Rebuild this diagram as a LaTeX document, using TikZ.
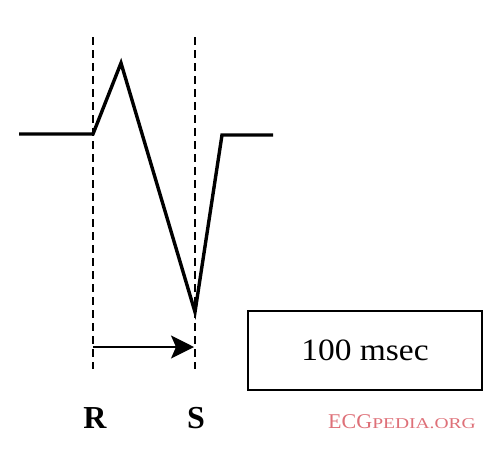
\documentclass[tikz,border=0pt]{standalone}
\usepackage{fontspec}
\setmainfont{Liberation Serif}
\newfontfamily\boxfont[FakeStretch=1.08]{Liberation Serif}
\newfontfamily\wmcap[FakeStretch=1.05]{Liberation Serif}
\newfontfamily\wmsc[FakeStretch=1.3]{Liberation Serif}
\usetikzlibrary{arrows.meta}
\definecolor{wmred}{RGB}{222,112,120}
\begin{document}
\begin{tikzpicture}[x=1pt,y=-1pt,
  wave/.style={line width=3.4pt, line join=miter},
  guide/.style={line width=1.3pt, dash pattern=on 8pt off 5pt},
  interval/.style={line width=1.3pt, -{Stealth[length=23pt,width=23pt,inset=5pt]}},
  scalebox/.style={draw, line width=1.3pt, minimum width=234pt, minimum height=79pt, inner sep=0pt},
  wavelabel/.style={anchor=base, font=\bfseries\fontsize{32}{34}\selectfont}]
\useasboundingbox (0,0) rectangle (500,458);
% waveform
\coordinate (b0) at (19,134);
\coordinate (rOn) at (93,134);
\coordinate (rPk) at (121,63);
\coordinate (sTr) at (195,312);
\coordinate (sOff) at (222,135);
\coordinate (b1) at (273,135);
\draw[wave] (b0) -- (rOn) -- (rPk) -- (sTr) -- (sOff) -- (b1);
% guides
\coordinate (rTop) at (93,37);
\coordinate (rBot) at (93,369);
\coordinate (sTop) at (195,37);
\coordinate (sBot) at (195,369);
\draw[guide] (rTop) -- (rBot);
\draw[guide] (sTop) -- (sBot);
% interval arrow
\coordinate (aL) at (93,347);
\coordinate (aR) at (194,347);
\draw[interval] (aL) -- (aR);
% scale box
\node[scalebox] (box) at (365,350.5) {\boxfont\fontsize{31}{36}\selectfont 100 msec};
% labels
\node[wavelabel] (rlab) at (95,428) {R};
\node[wavelabel] (slab) at (196,428) {S};
\node[anchor=base west, text=wmred, inner sep=0pt] (wm) at (328,428)
  {\wmcap\fontsize{21}{24}\selectfont ECG\wmsc\fontsize{15}{16}\selectfont PEDIA.ORG};
\end{tikzpicture}
\end{document}
